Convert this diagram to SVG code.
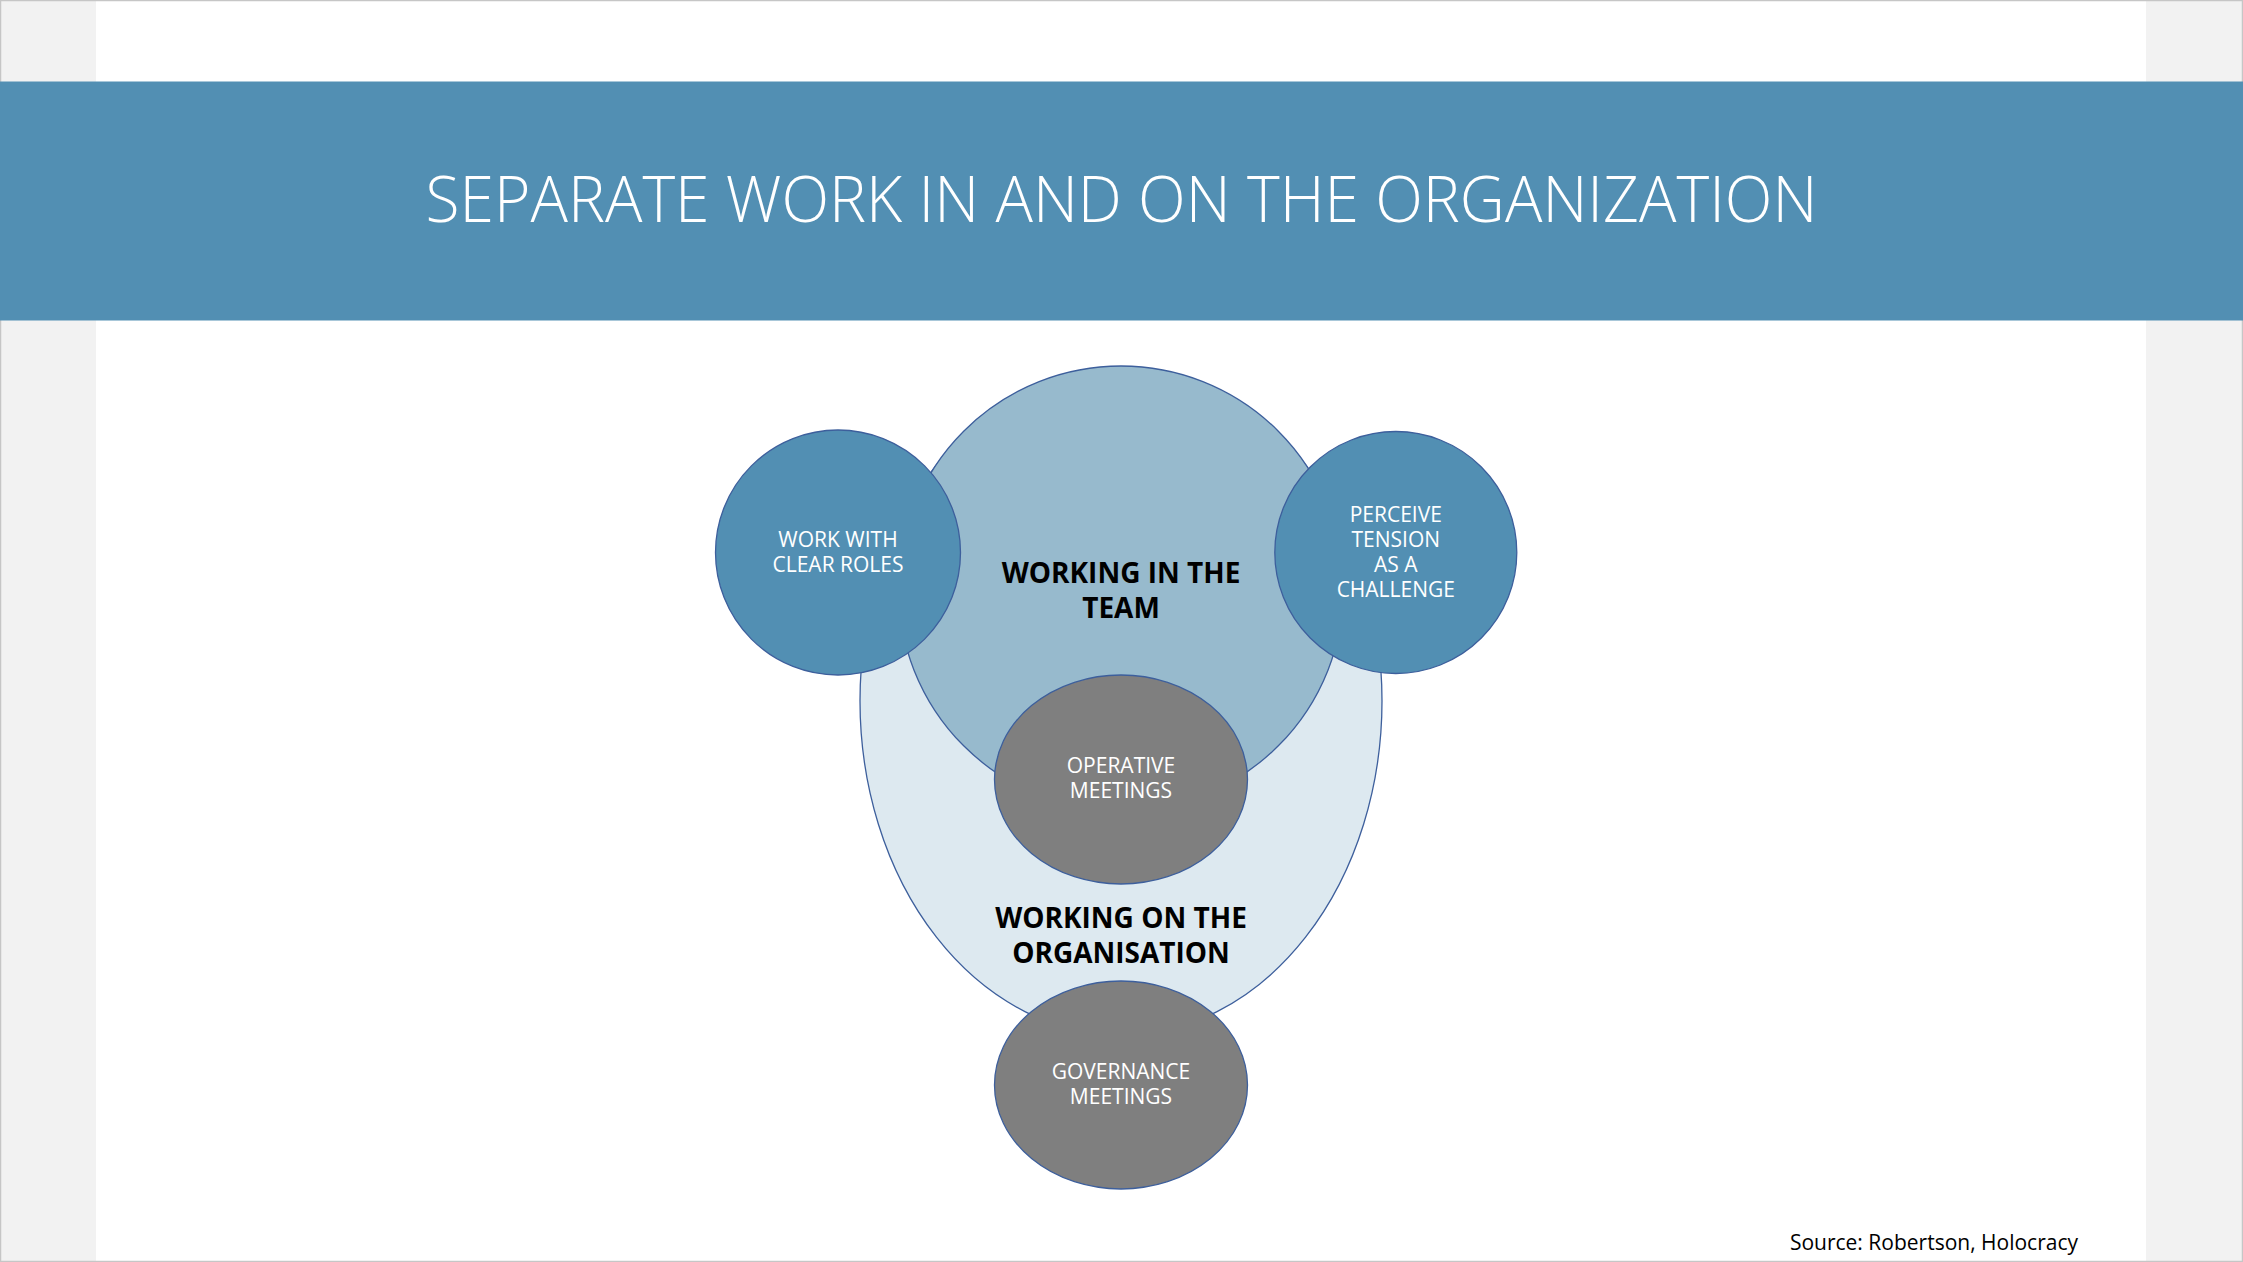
<svg xmlns="http://www.w3.org/2000/svg" width="2243" height="1262" viewBox="0 0 2243 1262">
<style>
.node{stroke:#3d5f9c;stroke-width:1.3}
.blue{fill:#528fb3}
.team{fill:#97bacd}
.org{fill:#dde9f0}
.grey{fill:#7f7f7f}
.lbl{font-family:"Open Sans","Liberation Sans",sans-serif;font-size:21px;fill:#ffffff;text-anchor:middle}
.big{font-family:"Open Sans","Liberation Sans",sans-serif;font-size:28px;font-weight:bold;fill:#000000;text-anchor:middle}
</style>
<rect x="0" y="0" width="2243" height="1262" fill="#f2f2f2"/>
<rect x="96" y="0" width="2050" height="1262" fill="#ffffff"/>
<rect x="0.5" y="0.5" width="2242" height="1261" fill="none" stroke="#c6c6c6" stroke-width="1.5"/>
<rect x="0" y="81.5" width="2243" height="239" fill="#528fb3"/>
<text x="1121.5" y="221.7" font-family="'Open Sans','Liberation Sans',sans-serif" font-weight="300" font-size="65" fill="#ffffff" text-anchor="middle" textLength="1392" lengthAdjust="spacingAndGlyphs">SEPARATE WORK IN AND ON THE ORGANIZATION</text>

<g id="connectors"></g>

<g id="org">
<ellipse class="node org" cx="1121" cy="701" rx="261" ry="334"/>
<text class="big" x="1121" y="927.5">WORKING ON THE</text>
<text class="big" x="1121" y="962.5">ORGANISATION</text>
</g>
<g id="team">
<circle class="node team" cx="1121" cy="588.5" r="222.5"/>
<text class="big" x="1121" y="583.3">WORKING IN THE</text>
<text class="big" x="1121" y="618.3">TEAM</text>
</g>
<g id="roles">
<circle class="node blue" cx="838" cy="552.5" r="122.5"/>
<text class="lbl" x="838" y="546.7">WORK WITH</text>
<text class="lbl" x="838" y="572">CLEAR ROLES</text>
</g>
<g id="tension">
<circle class="node blue" cx="1395.8" cy="552.5" r="121"/>
<text class="lbl" x="1395.8" y="521.7">PERCEIVE</text>
<text class="lbl" x="1395.8" y="546.7">TENSION</text>
<text class="lbl" x="1395.8" y="571.7">AS A</text>
<text class="lbl" x="1395.8" y="596.7">CHALLENGE</text>
</g>
<g id="operative">
<ellipse class="node grey" cx="1121" cy="779.5" rx="126.5" ry="104.5"/>
<text class="lbl" x="1121" y="773.3">OPERATIVE</text>
<text class="lbl" x="1121" y="798.3">MEETINGS</text>
</g>
<g id="governance">
<ellipse class="node grey" cx="1121" cy="1085" rx="126.5" ry="104"/>
<text class="lbl" x="1121" y="1079">GOVERNANCE</text>
<text class="lbl" x="1121" y="1104">MEETINGS</text>
</g>
<text x="2078" y="1250" font-family="'Open Sans','Liberation Sans',sans-serif" font-size="21" fill="#000000" text-anchor="end">Source: Robertson, Holocracy</text>
</svg>
